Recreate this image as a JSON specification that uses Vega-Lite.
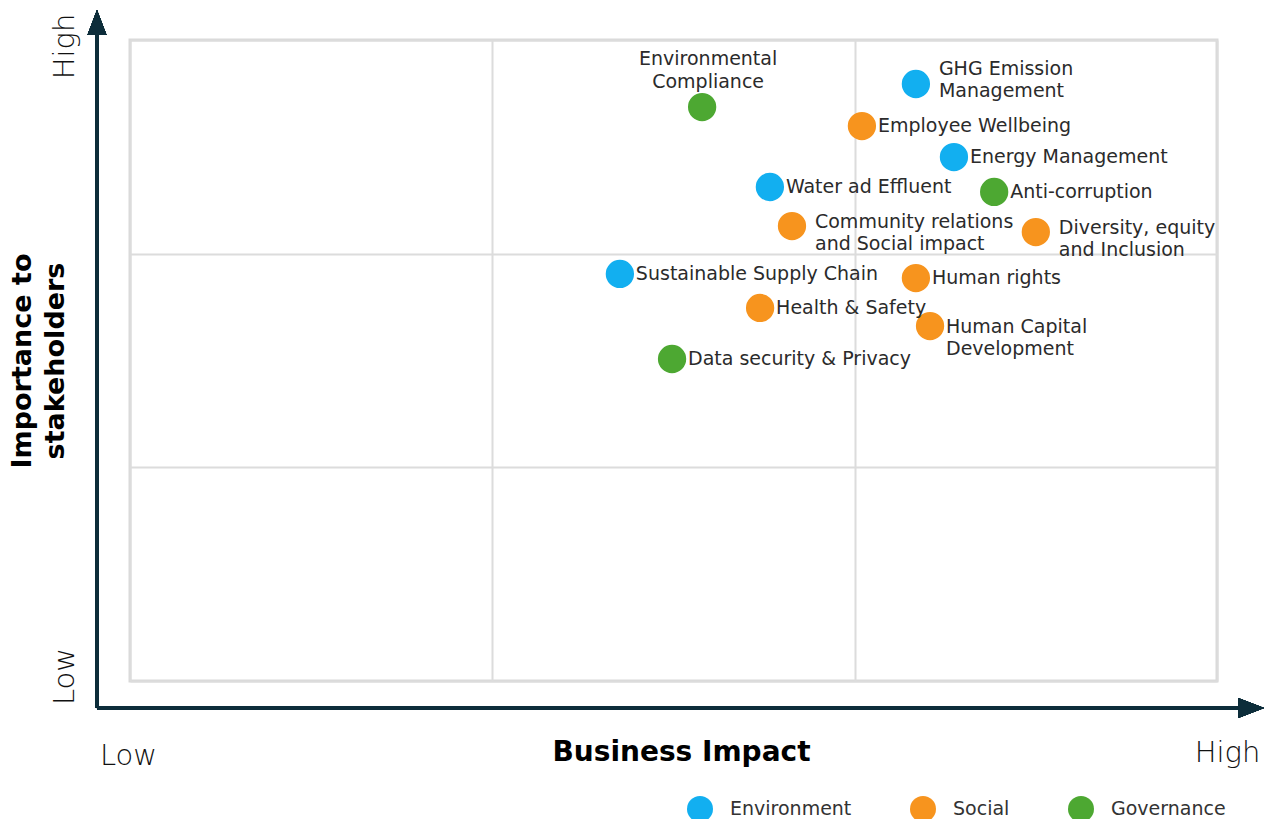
{
  "$schema": "https://vega.github.io/schema/vega-lite/v6.json",
  "width": 1087,
  "height": 641,
  "autosize": "none",
  "padding": {"left": 130, "top": 40, "right": 56, "bottom": 138},
  "background": "white",
  "config": {
    "view": {"stroke": "#d9d9d9", "strokeWidth": 3},
    "font": "DejaVu Sans"
  },
  "data": {
    "values": [
      {"topic": "Environmental\nCompliance", "category": "Governance", "bi": 1.579, "imp": 2.686},
      {"topic": "GHG Emission\nManagement", "category": "Environment", "bi": 2.169, "imp": 2.794},
      {"topic": "Employee Wellbeing", "category": "Social", "bi": 2.020, "imp": 2.597},
      {"topic": "Energy Management", "category": "Environment", "bi": 2.274, "imp": 2.452},
      {"topic": "Water ad Effluent", "category": "Environment", "bi": 1.766, "imp": 2.312},
      {"topic": "Anti-corruption", "category": "Governance", "bi": 2.385, "imp": 2.289},
      {"topic": "Community relations\nand Social impact", "category": "Social", "bi": 1.827, "imp": 2.129},
      {"topic": "Diversity, equity\nand Inclusion", "category": "Social", "bi": 2.500, "imp": 2.101},
      {"topic": "Sustainable Supply Chain", "category": "Environment", "bi": 1.352, "imp": 1.905},
      {"topic": "Human rights", "category": "Social", "bi": 2.169, "imp": 1.886},
      {"topic": "Health & Safety", "category": "Social", "bi": 1.739, "imp": 1.746},
      {"topic": "Human Capital\nDevelopment", "category": "Social", "bi": 2.208, "imp": 1.661},
      {"topic": "Data security & Privacy", "category": "Governance", "bi": 1.496, "imp": 1.507}
    ]
  },
  "layer": [
    {
      "mark": {"type": "rule", "color": "#0d2d3a", "strokeWidth": 3, "clip": false},
      "encoding": {
        "x": {"datum": -0.0911, "type": "quantitative"},
        "y": {"datum": -0.1264, "type": "quantitative"},
        "y2": {"datum": 3.03}
      }
    },
    {
      "mark": {"type": "rule", "color": "#0d2d3a", "strokeWidth": 3, "clip": false},
      "encoding": {
        "x": {"datum": -0.0911, "type": "quantitative"},
        "x2": {"datum": 3.07},
        "y": {"datum": -0.1264, "type": "quantitative"}
      }
    },
    {
      "mark": {"type": "point", "shape": "M0,-1L0.76,1L-0.76,1Z", "size": 625, "filled": true, "color": "#0d2d3a", "opacity": 1, "clip": false},
      "encoding": {
        "x": {"datum": -0.0911, "type": "quantitative"},
        "y": {"datum": 3.082, "type": "quantitative"}
      }
    },
    {
      "mark": {"type": "point", "shape": "M1,0L-1,-0.77L-1,0.77Z", "size": 676, "filled": true, "color": "#0d2d3a", "opacity": 1, "clip": false},
      "encoding": {
        "x": {"datum": 3.094, "type": "quantitative"},
        "y": {"datum": -0.1264, "type": "quantitative"}
      }
    },
    {
      "mark": {"type": "circle", "size": 800, "opacity": 1},
      "encoding": {
        "x": {
          "field": "bi", "type": "quantitative",
          "scale": {"domain": [0, 3], "nice": false, "zero": false},
          "axis": {
            "values": [0, 1, 2, 3],
            "grid": true, "gridColor": "#dcdcdc", "gridWidth": 2,
            "domain": false, "ticks": false, "tickSize": 0,
            "labelExpr": "datum.value == 0 ? 'Low' : datum.value == 3 ? 'High' : ''",
            "labelFontSize": 29, "labelFontWeight": 300, "labelColor": "#111111",
            "labelBaseline": "alphabetic",
            "labelPadding": {"condition": {"test": "datum.value == 3", "value": 80}, "value": 83},
            "labelOffset": {"condition": {"test": "datum.value == 3", "value": 10}, "value": -2},
            "labelFlush": false, "labelOverlap": false,
            "title": "Business Impact",
            "titleFontSize": 28, "titleFontWeight": "bold", "titleColor": "#000000",
            "titleX": 551, "titleY": 79, "titleBaseline": "alphabetic", "titleAlign": "center"
          }
        },
        "y": {
          "field": "imp", "type": "quantitative",
          "scale": {"domain": [0, 3], "nice": false, "zero": false},
          "axis": {
            "values": [0, 1, 2, 3],
            "grid": true, "gridColor": "#dcdcdc", "gridWidth": 2,
            "domain": false, "ticks": false, "tickSize": 0,
            "labelExpr": "datum.value == 0 ? 'Low' : datum.value == 3 ? 'High' : ''",
            "labelFontSize": 29, "labelFontWeight": 300, "labelColor": "#111111",
            "labelAngle": -90, "labelAlign": "center", "labelBaseline": "alphabetic",
            "labelPadding": 57,
            "labelOffset": {"condition": {"test": "datum.value == 3", "value": 6}, "value": -5},
            "labelFlush": false, "labelOverlap": false,
            "title": ["Importance to", "stakeholders"],
            "titleFontSize": 27, "titleFontWeight": "bold", "titleColor": "#000000",
            "titleAngle": -90, "titleAlign": "center", "titleBaseline": "top",
            "titleX": -121, "titleY": 320.5, "titleLineHeight": 33
          }
        },
        "color": {
          "field": "category", "type": "nominal",
          "scale": {"domain": ["Environment", "Social", "Governance"], "range": ["#12aff0", "#f7941e", "#4da832"]},
          "legend": {
            "orient": "none", "legendX": 557, "legendY": 756,
            "direction": "horizontal", "title": null,
            "symbolType": "circle", "symbolSize": 676, "symbolStrokeWidth": 0, "symbolOpacity": 1,
            "labelFontSize": 19, "labelColor": "#333333", "labelOffset": 17,
            "columnPadding": 58, "padding": 0
          }
        }
      }
    },
    {
      "transform": [{"filter": "indexof(datum.topic, '\\n') < 0"}],
      "mark": {"type": "text", "align": "left", "baseline": "middle", "dx": 16, "fontSize": 19, "color": "#2b2b2b"},
      "encoding": {
        "x": {"field": "bi", "type": "quantitative"},
        "y": {"field": "imp", "type": "quantitative"},
        "text": {"field": "topic"}
      }
    },
    {
      "transform": [{"filter": {"field": "topic", "oneOf": ["Community relations\nand Social impact", "Diversity, equity\nand Inclusion"]}}],
      "mark": {"type": "text", "align": "left", "baseline": "middle", "dx": 23, "dy": -4, "lineBreak": "\n", "lineHeight": 22, "fontSize": 19, "color": "#2b2b2b"},
      "encoding": {
        "x": {"field": "bi", "type": "quantitative"},
        "y": {"field": "imp", "type": "quantitative"},
        "text": {"field": "topic"}
      }
    },
    {
      "transform": [{"filter": {"field": "topic", "oneOf": ["Human Capital\nDevelopment"]}}],
      "mark": {"type": "text", "align": "left", "baseline": "middle", "dx": 16, "dy": 1, "lineBreak": "\n", "lineHeight": 22, "fontSize": 19, "color": "#2b2b2b"},
      "encoding": {
        "x": {"field": "bi", "type": "quantitative"},
        "y": {"field": "imp", "type": "quantitative"},
        "text": {"field": "topic"}
      }
    },
    {
      "transform": [{"filter": {"field": "topic", "oneOf": ["GHG Emission\nManagement"]}}],
      "mark": {"type": "text", "align": "left", "baseline": "middle", "dx": 23, "dy": -15, "lineBreak": "\n", "lineHeight": 22, "fontSize": 19, "color": "#2b2b2b"},
      "encoding": {
        "x": {"field": "bi", "type": "quantitative"},
        "y": {"field": "imp", "type": "quantitative"},
        "text": {"field": "topic"}
      }
    },
    {
      "transform": [{"filter": {"field": "topic", "oneOf": ["Environmental\nCompliance"]}}],
      "mark": {"type": "text", "align": "center", "baseline": "middle", "dx": 6, "dy": -48, "lineBreak": "\n", "lineHeight": 23, "fontSize": 19, "color": "#2b2b2b"},
      "encoding": {
        "x": {"field": "bi", "type": "quantitative"},
        "y": {"field": "imp", "type": "quantitative"},
        "text": {"field": "topic"}
      }
    }
  ]
}
